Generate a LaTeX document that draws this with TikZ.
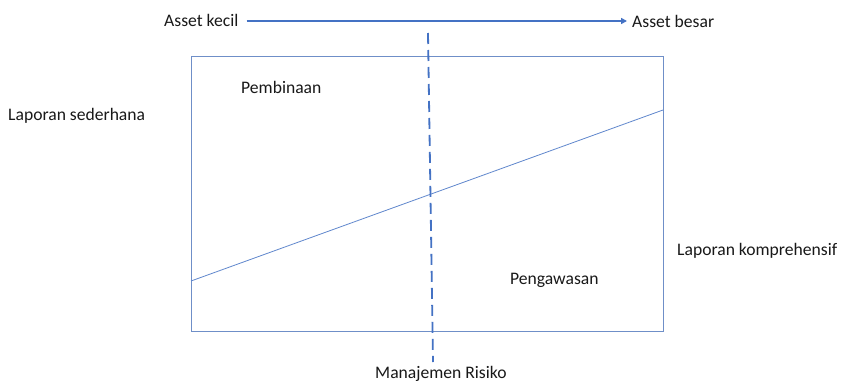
\documentclass[tikz,border=0pt]{standalone}
\usepackage{fontspec}
\setmainfont{Carlito}
\usetikzlibrary{arrows.meta}
\definecolor{lineblue}{HTML}{4472C4}
\definecolor{boxblue}{HTML}{6F8FC8}
\tikzset{
  lbl/.style={anchor=west, inner sep=0pt, font=\fontsize{17.6}{20}\selectfont, text=black!90},
  frame/.style={draw=boxblue, line width=1pt},
}
\begin{document}
\begin{tikzpicture}[x=1pt, y=-1pt]
  \useasboundingbox[fill=white] (0,0) rectangle (841,383);
  % axis of asset size
  \node[lbl] (kecil) at (164,20) {Asset kecil};
  \node[lbl] (besar) at (632,21) {Asset besar};
  \draw[lineblue, line width=1.8pt, -{Triangle[length=6pt, width=6pt]}]
    ([xshift=8pt]kecil.east |- 0,21) -- ([xshift=-5pt]besar.west |- 0,21);
  % main frame
  \draw[frame] (191,56) rectangle (663,331);
  \coordinate (dl) at (191,281);
  \coordinate (dr) at (663,110);
  \draw[lineblue!85, line width=0.8pt] (dl) -- (dr);
  % risk management divider
  \coordinate (rtop) at (428,33);
  \coordinate (rbot) at (433,362);
  \draw[lineblue, line width=1.8pt, dash pattern=on 11pt off 6pt] (rtop) -- (rbot);
  % labels
  \node[lbl] (bina) at (241,87) {Pembinaan};
  \node[lbl] (awas) at (510,280) {Pengawasan};
  \node[lbl] (sed) at (8,116) {Laporan sederhana};
  \node[lbl] (komp) at (677,251) {Laporan komprehensif};
  \node[lbl] (mr) at (375,374) {Manajemen Risiko};
\end{tikzpicture}
\end{document}
